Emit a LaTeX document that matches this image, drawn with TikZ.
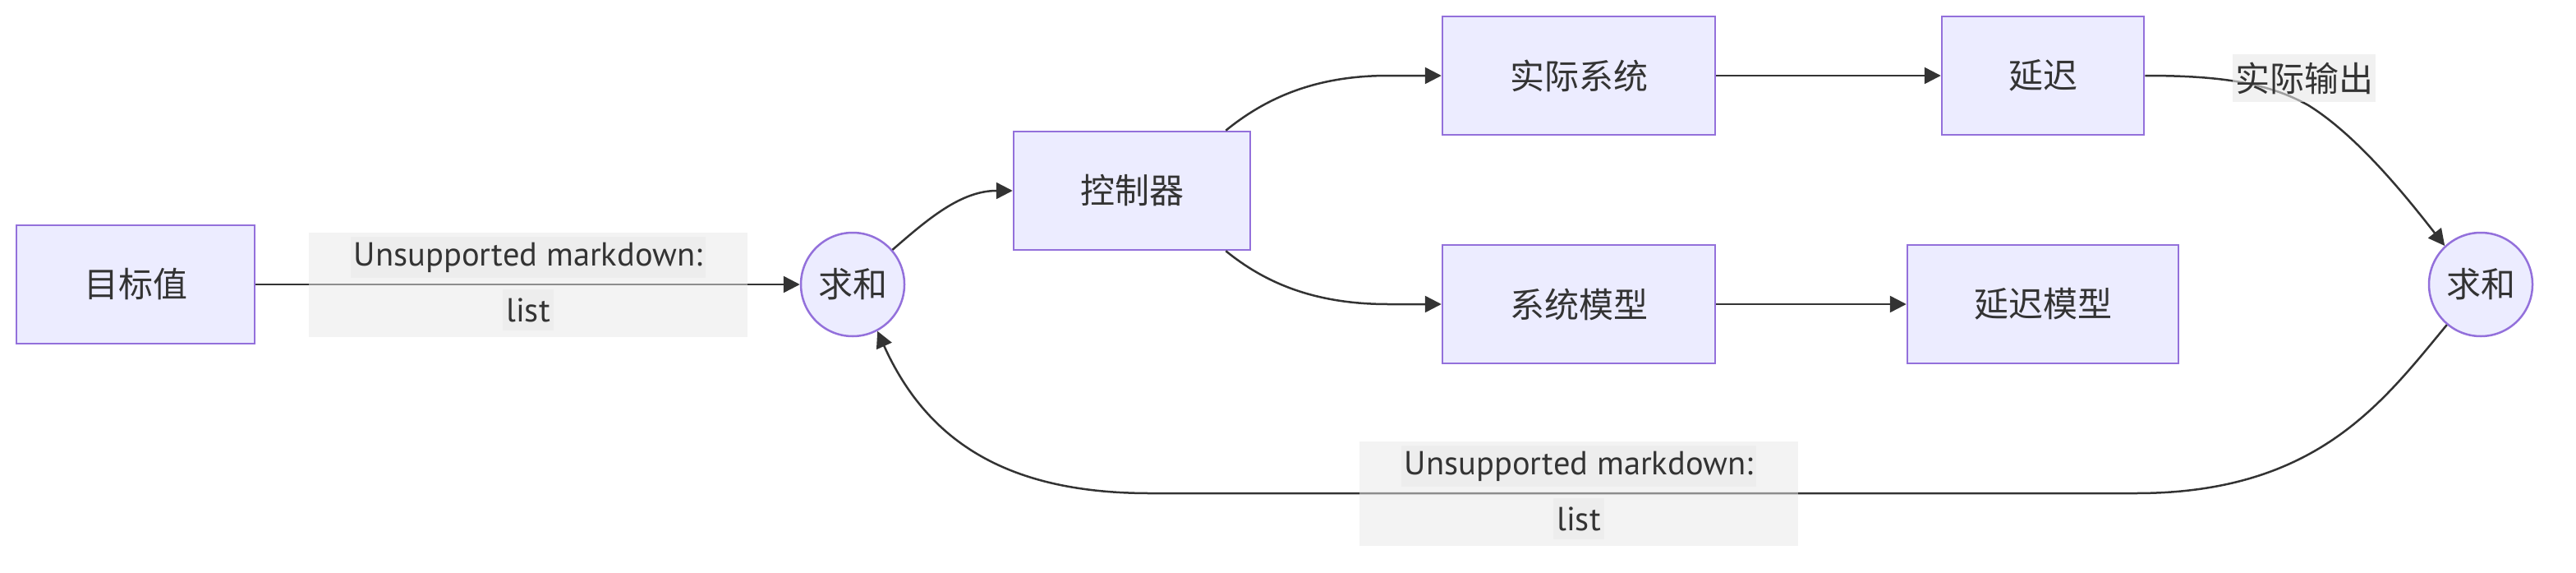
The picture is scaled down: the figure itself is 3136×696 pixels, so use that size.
\documentclass[tikz,border=0pt]{standalone}
\usepackage{fontspec}
\setmainfont{Noto Sans CJK SC}
\newfontfamily\latinfont{PT Sans}
\usetikzlibrary{arrows.meta}
\definecolor{nodefill}{HTML}{ECECFF}
\definecolor{nodeline}{HTML}{9370DB}
\definecolor{ink}{HTML}{333333}
\definecolor{lblgray}{HTML}{E8E8E8}
\begin{document}
\begin{tikzpicture}[x=1pt,y=-1pt,
  txt/.style={text=ink, font=\fontsize{42}{50}\selectfont},
  box/.style={txt, draw=nodeline, fill=nodefill, line width=2.5pt, inner sep=0pt, minimum height=144pt},
  sumnode/.style={txt, circle, draw=nodeline, fill=nodefill, line width=2.5pt, inner sep=0pt, minimum size=126pt},
  edge/.style={draw=ink, line width=2.5pt, -{Triangle[length=20pt,width=20pt]}},
  lblbox/.style={fill=lblgray, fill opacity=0.5, inner sep=0pt, draw=none},
  lbltext/.style={txt, fill=lblgray, fill opacity=0.6, text opacity=1, inner xsep=4pt, inner ysep=0pt, minimum height=50pt},
  lbllatin/.style={lbltext, font=\latinfont\fontsize{40.5}{48}\selectfont}
]
\useasboundingbox (0,0) rectangle (3136,696);

% nodes
\node[box, minimum width=290pt] (goal) at (165,346) {目标值};
\node[sumnode] (sumL) at (1038,346) {求和};
\node[box, minimum width=288pt] (ctrl) at (1378,232) {控制器};
\node[box, minimum width=332pt] (plant) at (1922,92) {实际系统};
\node[box, minimum width=246pt] (delay) at (2487,92) {延迟};
\node[box, minimum width=332pt] (model) at (1922,370) {系统模型};
\node[box, minimum width=330pt] (dmodel) at (2487,370) {延迟模型};
\node[sumnode] (sumR) at (3020,346) {求和};

% edges
\draw[edge] (goal.east) -- (sumL.west);
\draw[edge] (sumL.41) .. controls (1130,266) and (1170,232) .. (ctrl.west);
\draw[edge] ([xshift=-31pt]ctrl.north east) .. controls (1540,120) and (1600,92) .. (1690,92) -- (plant.west);
\draw[edge] ([xshift=-31pt]ctrl.south east) .. controls (1540,344) and (1600,370) .. (1690,370) -- (model.west);
\draw[edge] (plant.east) -- (delay.west);
\draw[edge] (model.east) -- (dmodel.west);
\draw[edge] (delay.east) .. controls (2700,92) and (2760,100) .. (2810,128) .. controls (2870,165) and (2930,240) .. (sumR.133);
\draw[edge] (sumR.230) .. controls (2900,490) and (2820,600) .. (2600,600) -- (1400,600) .. controls (1230,600) and (1130,540) .. (sumL.298);

% edge labels
\node[lblbox, minimum width=534pt, minimum height=127pt] (lab1) at (643,346) {};
\node[lbllatin] (lab1a) at (643,313) {Unsupported markdown:};
\node[lbllatin] (lab1b) at (643,377) {list};

\node[lblbox, minimum width=534pt, minimum height=127pt] (lab2) at (1922,600) {};
\node[lbllatin] (lab2a) at (1922,567) {Unsupported markdown:};
\node[lbllatin] (lab2b) at (1922,631) {list};

\node[lbltext, minimum height=58pt, inner xsep=3pt] (lab3) at (2805,95) {实际输出};
\end{tikzpicture}
\end{document}
